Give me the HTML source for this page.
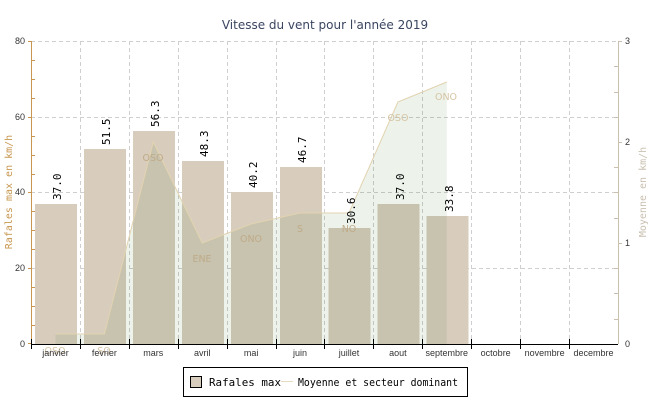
<!DOCTYPE html>
<html><head><meta charset="utf-8"><style>
html,body{margin:0;padding:0;background:#fff;}
svg{display:block;}
.m{font-family:"DejaVu Sans Mono","Liberation Mono",monospace;}
</style></head><body>
<svg width="650" height="400" viewBox="0 0 650 400" xmlns="http://www.w3.org/2000/svg">
<rect width="650" height="400" fill="#fff"/>
<text x="325" y="29" text-anchor="middle" font-family="DejaVu Sans, sans-serif" font-size="12" fill="#3a4560">Vitesse du vent pour l'année 2019</text>
<g stroke="#cfcfcf" stroke-dasharray="4,3" stroke-width="1" fill="none">
<line x1="31" y1="41.5" x2="618" y2="41.5"/>
<line x1="31" y1="117.5" x2="618" y2="117.5"/>
<line x1="31" y1="192.5" x2="618" y2="192.5"/>
<line x1="31" y1="268.5" x2="618" y2="268.5"/>
<line x1="80.5" y1="41" x2="80.5" y2="344"/>
<line x1="129.5" y1="41" x2="129.5" y2="344"/>
<line x1="178.5" y1="41" x2="178.5" y2="344"/>
<line x1="227.5" y1="41" x2="227.5" y2="344"/>
<line x1="276.5" y1="41" x2="276.5" y2="344"/>
<line x1="324.5" y1="41" x2="324.5" y2="344"/>
<line x1="373.5" y1="41" x2="373.5" y2="344"/>
<line x1="422.5" y1="41" x2="422.5" y2="344"/>
<line x1="471.5" y1="41" x2="471.5" y2="344"/>
<line x1="520.5" y1="41" x2="520.5" y2="344"/>
<line x1="569.5" y1="41" x2="569.5" y2="344"/>
</g>
<g fill="#d8cdbd">
<rect x="35" y="204" width="42" height="140"/>
<rect x="84" y="149" width="42" height="195"/>
<rect x="133" y="131" width="42" height="213"/>
<rect x="182" y="161" width="42" height="183"/>
<rect x="231" y="192" width="42" height="152"/>
<rect x="280" y="167" width="42" height="177"/>
<rect x="328.5" y="228" width="42" height="116"/>
<rect x="377.5" y="204" width="42" height="140"/>
<rect x="426.5" y="216" width="42" height="128"/>
</g>
<polygon points="55.5,344 55.5,334 104.4,334 153.3,142 202.2,243 251.1,224 300,213 349,213 397.9,102 446.8,82 446.8,344" fill="#edf3eb" style="mix-blend-mode:multiply"/>
<polyline points="55.5,334 104.4,334 153.3,142 202.2,243 251.1,224 300,213 349,213 397.9,102 446.8,82" fill="none" stroke="#e2d3b0" stroke-width="1"/>
<g font-family="DejaVu Sans, sans-serif" font-size="9.5" fill="#bfaa88" text-anchor="middle">
<text x="55" y="354" fill="#d6c4a4">OSO</text>
<text x="104" y="354" fill="#d6c4a4">SO</text>
<text x="153" y="161">OSO</text>
<text x="202" y="262">ENE</text>
<text x="251" y="242">ONO</text>
<text x="300" y="232">S</text>
<text x="349" y="232">NO</text>
<text x="398" y="121" fill="#d6c4a4">OSO</text>
<text x="446" y="100" fill="#d6c4a4">ONO</text>
</g>
<g class="m" font-size="11" fill="#000">
<text transform="translate(61,200) rotate(-90)">37.0</text>
<text transform="translate(110,145) rotate(-90)">51.5</text>
<text transform="translate(159,127) rotate(-90)">56.3</text>
<text transform="translate(208,157) rotate(-90)">48.3</text>
<text transform="translate(257,188) rotate(-90)">40.2</text>
<text transform="translate(306,163) rotate(-90)">46.7</text>
<text transform="translate(355,224) rotate(-90)">30.6</text>
<text transform="translate(404,200) rotate(-90)">37.0</text>
<text transform="translate(453,212) rotate(-90)">33.8</text>
</g>
<line x1="31.5" y1="41" x2="31.5" y2="344" stroke="#c8964e"/>
<g stroke="#c8964e">
<line x1="28" y1="41.5" x2="31" y2="41.5"/><line x1="28" y1="117.5" x2="31" y2="117.5"/><line x1="28" y1="192.5" x2="31" y2="192.5"/><line x1="28" y1="268.5" x2="31" y2="268.5"/><line x1="28" y1="343.5" x2="31" y2="343.5"/>
<line x1="32" y1="60.5" x2="35" y2="60.5"/><line x1="32" y1="79.5" x2="35" y2="79.5"/><line x1="32" y1="98.5" x2="35" y2="98.5"/>
<line x1="32" y1="136.5" x2="35" y2="136.5"/><line x1="32" y1="155.5" x2="35" y2="155.5"/><line x1="32" y1="174.5" x2="35" y2="174.5"/>
<line x1="32" y1="211.5" x2="35" y2="211.5"/><line x1="32" y1="230.5" x2="35" y2="230.5"/><line x1="32" y1="249.5" x2="35" y2="249.5"/>
<line x1="32" y1="287.5" x2="35" y2="287.5"/><line x1="32" y1="306.5" x2="35" y2="306.5"/><line x1="32" y1="325.5" x2="35" y2="325.5"/>
</g>
<line x1="618.5" y1="41" x2="618.5" y2="344" stroke="#c9c0b0"/>
<g stroke="#c9c0b0">
<line x1="618" y1="41.5" x2="622" y2="41.5"/><line x1="618" y1="142.5" x2="622" y2="142.5"/><line x1="618" y1="243.5" x2="622" y2="243.5"/>
<line x1="614" y1="66.5" x2="618" y2="66.5"/><line x1="614" y1="92.5" x2="618" y2="92.5"/><line x1="614" y1="117.5" x2="618" y2="117.5"/>
<line x1="614" y1="167.5" x2="618" y2="167.5"/><line x1="614" y1="192.5" x2="618" y2="192.5"/><line x1="614" y1="218.5" x2="618" y2="218.5"/>
<line x1="614" y1="268.5" x2="618" y2="268.5"/><line x1="614" y1="293.5" x2="618" y2="293.5"/><line x1="614" y1="319.5" x2="618" y2="319.5"/>
</g>
<line x1="31" y1="344.5" x2="618" y2="344.5" stroke="#000"/>
<g stroke="#000">
<line x1="31.5" y1="339" x2="31.5" y2="349"/><line x1="80.5" y1="339" x2="80.5" y2="349"/><line x1="129.5" y1="339" x2="129.5" y2="349"/><line x1="178.5" y1="339" x2="178.5" y2="349"/><line x1="227.5" y1="339" x2="227.5" y2="349"/><line x1="276.5" y1="339" x2="276.5" y2="349"/><line x1="324.5" y1="339" x2="324.5" y2="349"/><line x1="373.5" y1="339" x2="373.5" y2="349"/><line x1="422.5" y1="339" x2="422.5" y2="349"/><line x1="471.5" y1="339" x2="471.5" y2="349"/><line x1="520.5" y1="339" x2="520.5" y2="349"/><line x1="569.5" y1="339" x2="569.5" y2="349"/>
</g>
<g font-family="Liberation Sans, sans-serif" font-size="9" fill="#333" text-anchor="middle">
<text x="55.5" y="356">janvier</text><text x="104.4" y="356">fevrier</text><text x="153.3" y="356">mars</text><text x="202.2" y="356">avril</text><text x="251.1" y="356">mai</text><text x="300" y="356">juin</text><text x="349" y="356">juillet</text><text x="397.9" y="356">aout</text><text x="446.8" y="356">septembre</text><text x="495.7" y="356">octobre</text><text x="544.6" y="356">novembre</text><text x="593.5" y="356">decembre</text>
</g>
<g font-family="Liberation Sans, sans-serif" font-size="9" fill="#333" text-anchor="end">
<text x="25" y="44">80</text><text x="25" y="120">60</text><text x="25" y="195">40</text><text x="25" y="271">20</text><text x="25" y="347">0</text>
</g>
<g font-family="Liberation Sans, sans-serif" font-size="9" fill="#333">
<text x="625" y="44">3</text><text x="625" y="145">2</text><text x="625" y="246">1</text><text x="625" y="347">0</text>
</g>
<text class="m" transform="translate(12,192) rotate(-90)" text-anchor="middle" font-size="10" fill="#c8964e">Rafales max en km/h</text>
<text class="m" transform="translate(646,192) rotate(-90)" text-anchor="middle" font-size="10" fill="#c9c0b0">Moyenne en km/h</text>
<rect x="183.5" y="367.5" width="284" height="29" fill="#fff" stroke="#000"/>
<rect x="190.5" y="376.5" width="11" height="11" fill="#d8cdbd" stroke="#000"/>
<text class="m" x="209" y="386" font-size="11" fill="#000" textLength="72" lengthAdjust="spacingAndGlyphs">Rafales max</text>
<line x1="281" y1="381.5" x2="293" y2="381.5" stroke="#e8dcc0"/>
<text class="m" x="298" y="386" font-size="11" fill="#000" textLength="160" lengthAdjust="spacingAndGlyphs">Moyenne et secteur dominant</text>
</svg>
</body></html>
